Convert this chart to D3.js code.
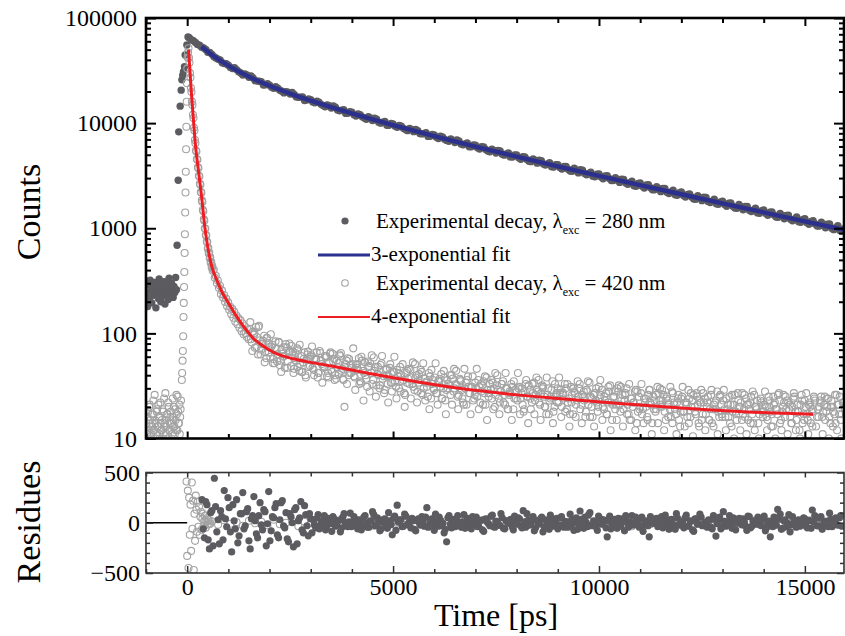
<!DOCTYPE html>
<html><head><meta charset="utf-8">
<script src="https://cdn.jsdelivr.net/npm/d3@7"></script>
<style>body{margin:0;background:#fff}svg{display:block}</style>
</head><body><svg id="c" width="845" height="636"></svg>
<script>
// ---------------- DATA ----------------
const xTicks = [0, 5000, 10000, 15000];
const yTicks = [10, 100, 1000, 10000, 100000];
const resTicks = [-500, 0, 500];
const legendLabels = ["Experimental decay, \u03bb", "3-exponential fit", "Experimental decay, \u03bb", "4-exponential fit"];
const legendWl = ["280 nm", "", "420 nm", ""];

// 280 nm excitation decay (filled points)
const tPre280 = d3.range(-980, -259, 20);
const pre280 = [245,180,290,215,320,260,195,275,230,305,250,175,285,240,215,330,265,200,295,225,255,310,190,270,240,285,210,335,250,230,300,265,220,280,245,340,260];
const tRise280 = [-245,-218,-205,-170,-146,-129,-108,-90,-66,-49,-8,20,50];
const rise280 = [690,2860,8260,14500,20600,25800,28500,30800,34400,44500,55300,66000,64800];
const tDecay280 = d3.range(100, 15901, 100);
const decay280 = [62300,58400,55100,51900,47300,45100,41700,39800,36900,35500,33100,32300,30000,29400,27300,26900,25100,24800,23200,22900,
21500,21500,20100,19900,18900,18700,17600,17700,16600,16700,15600,15800,14700,14900,13900,14200,13100,13400,12400,12700,
11700,12000,11200,11500,10600,10900,10000,10400,9550,9800,9150,9350,8700,8900,8300,8480,7900,8100,7500,7720,
7150,7390,6850,7080,6540,6760,6230,6460,5950,6170,5680,5920,5430,5660,5190,5430,4960,5200,4750,4980,
4540,4770,4350,4570,4160,4390,3990,4210,3820,4030,3660,3870,3500,3720,3360,3570,3220,3420,3090,3290,
2960,3160,2840,3030,2730,2910,2620,2800,2510,2690,2410,2590,2320,2490,2230,2390,2140,2300,2060,2210,
1980,2120,1900,2040,1830,1960,1760,1890,1690,1810,1620,1740,1560,1680,1500,1610,1440,1550,1390,1490,
1330,1430,1280,1380,1230,1330,1180,1280,1140,1230,1090,1180,1050,1140,1010,1100,970,1060,940];
const tDecay280b = d3.range(150, 15951, 100);
const decay280b = [60900,56100,52800,50200,47000,42800,40600,37500,36700,33900,
33680,30840,28660,28720,28130,25350,25000,23070,23680,21930,22160,20570,19380,19700,19540,17760,17660,16440,17020,15880,
16150,15090,14300,14640,14580,13300,13260,12380,12850,12020,12250,11470,10890,11180,11160,10190,10190,9530,9930,9320,
9510,8920,8480,8710,8720,7980,7980,7480,7800,7330,7490,7040,6710,6890,6910,6330,6340,5950,6210,5830,
5960,5610,5350,5500,5510,5060,5080,4770,4980,4680,4790,4510,4300,4440,4440,4080,4100,3850,4020,3780,
3870,3650,3480,3590,3600,3310,3320,3130,3270,3070,3150,2970,2840,2920,2930,2690,2710,2540,2670,2510,
2580,2430,2320,2390,2390,2200,2210,2080,2180,2050,2100,1980,1890,1950,1970,1800,1810,1710,1780,1680,
1730,1620,1550,1600,1610,1480,1490,1400,1470,1380,1420,1340,1270,1320,1320,1220,1220,1150,1210,1130,
1160,1100,1050,1090,1090,1000,1010,950,990];

// 3-exponential fit (blue)
const tFit3 = [350,500,750,1000,1500,2000,2500,3000,4000,5000,6000,7000,8000,9000,10000,11000,12000,13000,14000,15000,15950];
const fit3 = [53385,47850,40600,35145,27600,22640,19080,16350,12365,9573,7526,5987,4805,3882,3155,2572,2105,1726,1417,1164,968];

// 420 nm excitation decay (open circles)
const tPre420 = d3.range(-990, -149, 20);
const pre420 = [14,11,18,12,21,15,10,13,17,12,26,14,11,19,13,16,10,22,12,15,18,11,14,27,13,17,10,20,12,16,14,11,24,15,13,19,12,17,25,14,21,16,23];
const tPre420b = d3.range(-980, -159, 20);
const pre420b = [12,16,10,20,13,11,17,14,23,12,15,10,18,13,21,11,16,14,12,19,10,24,13,15,11,17,22,12,14,18,10,16,13,20,11,15,26,12,18,14,11,19];
const tRise420 = [-130,-122,-112,-105,-97,-90,-83,-76,-69,-62,-55,-48,-41,-34,-27,-20,-13,-6,2,10];
const rise420 = [36,42,55,68,94,143,195,276,384,582,877,1413,2188,3446,5650,9230,15950,24000,33000,42000];
const tEarly420 = d3.range(20, 609, 12);
const early420 = [47000,51500,41800,37500,29900,27200,21600,19800,16000,14900,12000,11200,9050,8500,6900,6450,5480,5380,4560,4480,
3800,3730,3160,3110,2650,2600,2210,2180,1840,1780,1500,1450,1215,1180,995,995,860,855,742,738,
640,651,577,588,519,530,468,479,424,440];
const tMid420 = d3.range(620, 1496, 25);
const mid420 = [395,402,338,352,301,318,271,284,236,255,219,232,199,214,181,197,168,179,152,171,141,160,129,148,122,139,113,133,105,124,98,117,101,93,109,88];
const tTail420 = d3.range(1520, 15971, 50);
const tail420 = [110,82,97,115,63,86,79,95,58,81, 60,78,52,71,83,55,64,47,73,66, 49,67,58,72,44,61,53,40,63,57,
62,45,56,38,68,51,47,59,42,64, 43,57,37,52,61,46,20,55,40,50, 51,38,47,58,34,44,53,31,49,42,
36,48,41,30,52,39,45,33,47,28, 43,31,39,48,35,27,42,37,45,33, 29,40,34,45,26,37,31,42,24,36,
38,27,35,41,30,23,36,32,40,28, 33,25,37,29,21,34,39,27,31,24, 30,36,22,32,27,38,25,29,34,20,
32,24,28,35,21,30,26,33,19,29, 23,31,27,18,33,25,29,22,34,26, 28,21,32,25,17,30,24,35,20,27,
22,29,26,33,19,24,31,17,27,23, 30,21,25,16,28,34,20,26,23,18, 24,29,19,27,22,32,15,25,21,28,
18,26,23,30,17,24,20,28,14,25, 27,19,22,16,29,21,25,18,31,23, 20,26,15,23,19,28,22,17,24,13,
25,18,21,29,16,23,20,27,14,22, 17,24,20,15,26,19,22,28,16,21, 23,16,19,25,13,21,18,27,20,15,
19,24,15,22,17,26,20,14,23,18, 21,16,25,18,13,22,19,27,15,20, 16,23,19,14,24,18,21,12,26,17,
20,15,22,18,25,13,19,23,16,21, 18,24,14,20,17,26,21,15,22,19];
const tTail420b = d3.range(1545, 15971, 50);
const tail420b = [88,104,73,92,118,70,85,66,90,74, 75,57,84,63,50,70,61,79,54,68, 62,46,55,69,51,43,66,56,48,60,
47,58,66,42,55,49,61,39,53,45, 54,40,48,63,44,36,51,58,42,47, 39,50,45,35,55,42,37,48,52,33,
44,32,40,50,37,29,46,39,34,43, 35,45,30,40,36,26,44,33,38,31, 38,28,36,43,30,34,25,39,33,29,
27,35,31,24,38,29,33,26,37,30, 32,26,35,22,30,36,27,31,23,34, 25,31,28,35,21,29,33,24,30,26,
29,22,33,26,30,19,27,31,24,28, 30,24,21,28,25,32,19,27,23,29, 22,27,31,20,26,23,29,18,25,30,
27,20,24,30,22,17,26,28,21,25, 19,26,23,29,21,25,16,27,22,31, 26,20,23,17,28,22,25,19,30,21,
23,19,27,21,15,24,22,29,18,20, 17,24,20,26,22,14,23,19,27,21, 23,18,25,21,16,27,19,22,15,24,
18,22,16,24,20,26,17,21,23,15, 22,17,25,19,14,21,23,18,26,16, 19,24,16,21,18,26,15,20,22,17,
16,21,19,25,14,20,23,17,22,18, 20,15,23,17,21,19,26,14,18,22, 19,22,16,20,25,15,18,21,14,23,
17,21,14,19,23,16,20,25,18,15, 20,16,23,18,14,21,25,17,22];
const tTail420c = d3.range(1532, 15971, 50);
const tail420c = [128,68,101,74,115,63,80,53,91,66, 98,52,73,54,82,43,60,74,47,80, 76,42,65,48,78,43,57,38,67,49,
75,40,57,42,65,34,48,61,38,66, 64,36,55,41,65,37,48,33,57,42, 72,29,51,33,60,23,40,54,28,62,
59,25,48,32,61,27,40,22,51,34, 60,24,42,28,51,20,34,46,24,53, 51,22,41,27,52,23,35,19,45,30,
52,21,37,24,44,17,30,40,21,46, 44,19,36,24,46,21,31,17,39,26, 46,19,33,21,39,15,27,36,19,42,
40,17,33,22,42,19,28,15,35,24, 42,17,30,19,36,14,24,33,17,38, 36,15,30,20,38,17,25,14,33,22,
38,16,27,18,33,13,22,30,16,35, 33,14,28,18,35,16,24,13,30,20, 36,15,25,17,31,12,21,28,15,32,
31,13,26,17,33,15,22,12,28,19, 33,14,24,15,29,11,19,26,14,30, 29,12,24,16,31,14,21,11,26,18,
31,13,22,14,27,10.5,18,25,13,29, 27,12,22,15,29,13,19,11,25,17, 29,12,21,14,26,10,17,23,12,27,
26,11,21,14,28,12,19,10,24,16, 28,12,20,13,25,10,17,23,12,26, 25,11,21,14,27,12,18,10,23,15,
27,11,20,13,24,9,16,22,11,25, 24,10,20,13,26,12,17,10,22];

// 4-exponential fit (red)
const tFit4 = [32,100,150,200,275,350,425,500,600,720,850,1000,1200,1400,1600,1800,2100,2600,3000,3500,4500,5500,6600,8000,9000,10500,12000,13500,15200];
const fit4 = [50000,20000,11000,6200,3500,2000,1050,660,430,320,245,195,145,112,90,78,66,57,53,49,41,35,30,26,24,21.5,19.5,18,17];

// residues, 280 nm (filled)
const tRes280 = d3.range(360, 15901, 60);
const res280 = [230,-150,180,-260,120,443,-90,
-210,60,320,-40,150,-290,20,230,-130,90,-60,110,-180,40,260,-110,70,-20,130,-230,310,-80,50,190,-150,200,-30,100,-190,60,-240,150,20,210,-100,80,-130,40,
30,-50,80,-20,10,-70,45,-10,60,-35,20,-90,55,0,-40,95,-15,35,-60,25,
-25,70,-45,15,110,-30,50,-80,5,40,-55,20,-120,65,175,30,-40,85,-20,10,
45,-65,25,-5,60,-35,150,-25,40,-75,15,55,-30,-100,-190,70,-50,35,-15,5,
-45,80,-20,30,-60,10,55,-35,25,-85,40,-10,65,-40,15,-25,90,-55,20,-5,
35,-70,10,50,-30,120,-45,25,-15,60,-50,5,40,-90,30,-20,75,-35,10,-60,
50,-25,15,-45,85,-10,30,-65,117,-5,55,-40,100,-30,10,-75,45,-15,25,-140,
65,-20,35,-55,5,40,-80,15,-30,70,-10,25,-45,55,-25,10,-140,30,-5,45,
-35,60,-15,20,-65,35,-40,90,-20,10,-50,75,-30,15,-85,40,-10,55,-25,5,
30,-45,70,-133,25,-60,110,-35,10,-20,50,-70,20,-5,40,-30,65,-50,15,-10,
55,-25,35,-80,10,-140,-40,20,133,85,-55,30,-5,-90,60,-20,25,-35,15,40,
-50,20,127,70,-30,45,-65,15,-25,95,-40,10,-20,50,-35];
const tRes280b = d3.range(390, 15901, 60);
const res280b = [-60,210,-170,100,-230,160,30,
120,-170,40,250,-90,180,-60,-200,90,300,-30,140,-260,70,20,-150,200,-70,110,-10,-180,60,150,-120,30,220,-50,-160,90,0,130,-210,50,-70,170,-30,90,-100,
-20,45,-60,15,70,-35,5,-85,40,-10,25,-50,90,-25,10,-40,60,-15,30,-70,
55,-5,-45,20,80,-30,10,-60,35,-15,100,-20,45,-75,5,30,-35,65,-10,-50,
20,-80,40,-25,15,55,-45,10,-20,85,-35,25,-5,-65,50,-15,30,-40,70,-30,
10,-55,45,-20,60,-10,-40,25,-70,35,5,-30,75,-45,15,-25,50,-60,20,0,
-35,65,-15,40,-50,10,90,-25,30,-80,20,-10,55,-40,15,-65,35,-5,45,-20,
60,-45,10,-30,25,-75,50,-15,35,-55,5,80,-25,20,-40,65,-10,30,-50,15,
-60,25,-20,45,-35,10,70,-45,5,-25,55,-15,40,-85,20,-30,60,-5,35,-40,
15,-50,75,-20,30,-10,-65,45,-25,10,50,-35,20,-70,40,-15,85,-30,5,-45,
25,-60,35,-10,55,-40,15,-25,70,-55,30,-5,45,-20,10,-75,60,-35,20,-15,
40,-30,65,-50,15,-10,55,-25,35,-65,20,-40,80,-20,5,-45,30,-15,50,-35,
25,-55,10,45,-30,60,-20,15,-40,35,-10,50,-25,70];

// residues, 420 nm (open)
const tResEarly420 = d3.range(-16, 561, 16);
const resEarly420 = [410,-330,320,-450,250,-120,180,-280,400,-60,220,-470,90,-180,270,130,-90,210,-40,160,-120,60,110,-70,40,90,-30,20,70,-50,10,45,-20,30,-15,25,-10];
const tResLate420 = d3.range(600, 15901, 150);
const resLate420 = [15,-20,25,-10,5,-30,20,-5,10,-25,30,-15,0,20,-35,10,-5,25,-20,15,-10,35,-25,5,-15,20,-30,10,25,-5,
0,-20,30,-10,15,-25,5,20,-35,10,-15,25,-5,-20,30,0,-10,15,-30,20,5,-25,35,-15,10,-5,20,-30,0,25,
-20,10,-10,30,-25,15,-5,20,-35,5,10,-15,25,-20,0,30,-10,15,-25,5,-30,20,-5,10,-15,35,-20,0,25,-10,
15,-25,5,20,-30,10,-5,25,-15,0,20,-10,5];

// ---------------- CHART ----------------
const FONT = '"Liberation Serif","Times New Roman",Times,serif';
const DARK = "#5b5b60", OPEN = "#a3a3a3", BLUE = "#2b2f8e", RED = "#ee1d24";
const L = 146, R = 844, T1 = 18, B1 = 438.5, T2 = 472.5, B2 = 573;
const svg = d3.select("#c");

const x = d3.scaleLinear().domain([-1000, 15950]).range([L, R]);
const y = d3.scaleLog().domain([10, 100000]).range([B1, T1]);
const yr = d3.scaleLinear().domain([-500, 500]).range([B2, T2]);

const defs = svg.append("defs");
defs.append("clipPath").attr("id", "clipTop").append("rect").attr("x", L).attr("y", T1).attr("width", R - L).attr("height", B1 - T1);
defs.append("clipPath").attr("id", "clipBot").append("rect").attr("x", L).attr("y", T2).attr("width", R - L).attr("height", B2 - T2);

const zip = (ts, vs) => ts.map((t, i) => [t, vs[i]]);

// top panel marks
const gTop = svg.append("g").attr("clip-path", "url(#clipTop)");
const pts280 = zip(tPre280, pre280).concat(zip(tRise280, rise280), zip(tDecay280, decay280), zip(tDecay280b, decay280b));
gTop.append("g").selectAll("circle").data(pts280).join("circle")
  .attr("cx", d => x(d[0])).attr("cy", d => y(d[1])).attr("r", 3.7).attr("fill", DARK);
gTop.append("path").datum(zip(tFit3, fit3))
  .attr("d", d3.line().x(d => x(d[0])).y(d => y(d[1])).curve(d3.curveMonotoneX))
  .attr("fill", "none").attr("stroke", BLUE).attr("stroke-width", 4.4);
const pts420 = zip(tPre420, pre420).concat(zip(tPre420b, pre420b), zip(tRise420, rise420), zip(tEarly420, early420),
  zip(tMid420, mid420), zip(tTail420, tail420), zip(tTail420b, tail420b), zip(tTail420c, tail420c));
gTop.append("g").selectAll("circle").data(pts420).join("circle")
  .attr("cx", d => x(d[0])).attr("cy", d => y(d[1])).attr("r", 3.5)
  .attr("fill", "none").attr("stroke", OPEN).attr("stroke-width", 1.1);
gTop.append("path").datum(zip(tFit4, fit4))
  .attr("d", d3.line().x(d => x(d[0])).y(d => y(d[1])).curve(d3.curveMonotoneX))
  .attr("fill", "none").attr("stroke", RED).attr("stroke-width", 3);

// bottom panel marks
const gBot = svg.append("g").attr("clip-path", "url(#clipBot)");
gBot.append("line").attr("x1", x(-1000)).attr("x2", x(0)).attr("y1", yr(0)).attr("y2", yr(0))
  .attr("stroke", "#000").attr("stroke-width", 1.6);
const r420 = zip(tResEarly420, resEarly420).concat(zip(tResLate420, resLate420));
gBot.append("g").selectAll("circle").data(r420).join("circle")
  .attr("cx", d => x(d[0])).attr("cy", d => yr(d[1])).attr("r", 3.5)
  .attr("fill", "none").attr("stroke", OPEN).attr("stroke-width", 1.1);
gBot.append("g").selectAll("circle").data(zip(tRes280, res280).concat(zip(tRes280b, res280b))).join("circle")
  .attr("cx", d => x(d[0])).attr("cy", d => yr(d[1])).attr("r", 3.6).attr("fill", DARK);

// axes helpers
function drawAxis(gen, vals, size, transform, sw, color, fmt, pad) {
  const g = svg.append("g").attr("transform", transform)
    .call(gen.tickValues(vals).tickSize(size).tickPadding(pad || 3).tickFormat(fmt || (() => "")));
  g.select(".domain").remove();
  g.attr("font-family", FONT).attr("font-size", 24);
  g.selectAll(".tick line").attr("stroke", color).attr("stroke-width", sw);
  g.selectAll(".tick text").attr("fill", "#000");
  return g;
}
const minorX = d3.range(-1000, 15951, 1000).filter(v => v % 5000 !== 0);
const minorLog = [];
[10, 100, 1000, 10000].forEach(dec => { for (let m = 2; m <= 9; m++) minorLog.push(m * dec); });
const minorRes = d3.range(-400, 401, 100).filter(v => v !== 0);

// top panel axes
drawAxis(d3.axisBottom(x), xTicks, -7, `translate(0,${B1})`, 2, "#000");
drawAxis(d3.axisBottom(x), minorX, -4.5, `translate(0,${B1})`, 2, "#000");
drawAxis(d3.axisTop(x), xTicks, -8, `translate(0,${T1})`, 2, "#000");
drawAxis(d3.axisTop(x), minorX, -5, `translate(0,${T1})`, 2, "#000");
drawAxis(d3.axisLeft(y), yTicks, -10, `translate(${L},0)`, 2, "#000", d3.format("d"), 9);
drawAxis(d3.axisLeft(y), minorLog, -5, `translate(${L},0)`, 2, "#000");
drawAxis(d3.axisRight(y), yTicks, -10, `translate(${R},0)`, 2, "#000");
drawAxis(d3.axisRight(y), minorLog, -5, `translate(${R},0)`, 2, "#000");
svg.append("rect").attr("x", L).attr("y", T1).attr("width", R - L).attr("height", B1 - T1)
  .attr("fill", "none").attr("stroke", "#000").attr("stroke-width", 2.6);

// bottom panel axes
const BC = "#333";
drawAxis(d3.axisBottom(x), xTicks, -7, `translate(0,${B2})`, 1.5, BC, d3.format("d"), 5);
drawAxis(d3.axisBottom(x), minorX, -4, `translate(0,${B2})`, 1.5, BC);
drawAxis(d3.axisTop(x), xTicks, -5, `translate(0,${T2})`, 1.5, BC);
drawAxis(d3.axisTop(x), minorX, -4, `translate(0,${T2})`, 1.5, BC);
drawAxis(d3.axisLeft(yr), resTicks, -7, `translate(${L},0)`, 1.5, BC, d3.format("d"), 6);
drawAxis(d3.axisLeft(yr), minorRes, -4, `translate(${L},0)`, 1.5, BC);
drawAxis(d3.axisRight(yr), resTicks, -7, `translate(${R},0)`, 1.5, BC);
drawAxis(d3.axisRight(yr), minorRes, -4, `translate(${R},0)`, 1.5, BC);
svg.append("rect").attr("x", L).attr("y", T2).attr("width", R - L).attr("height", B2 - T2)
  .attr("fill", "none").attr("stroke", BC).attr("stroke-width", 1.6);

// axis titles
svg.append("text").attr("transform", "translate(40,212) rotate(-90)").attr("text-anchor", "middle")
  .attr("font-family", FONT).attr("font-size", 34).text("Counts");
svg.append("text").attr("transform", "translate(40,522) rotate(-90)").attr("text-anchor", "middle")
  .attr("font-family", FONT).attr("font-size", 34).text("Residues");
svg.append("text").attr("x", 496).attr("y", 626).attr("text-anchor", "middle")
  .attr("font-family", FONT).attr("font-size", 32).text("Time [ps]");

// legend
const lg = svg.append("g").attr("font-family", FONT).attr("font-size", 21);
const rowsY = [228, 261, 290, 323];
legendLabels.forEach((lab, i) => {
  const by = rowsY[i];
  if (i === 0) lg.append("circle").attr("cx", 345).attr("cy", by - 7).attr("r", 3.6).attr("fill", DARK);
  if (i === 2) lg.append("circle").attr("cx", 345).attr("cy", by - 7).attr("r", 3.3).attr("fill", "none").attr("stroke", OPEN).attr("stroke-width", 1.1);
  if (i === 1) lg.append("line").attr("x1", 318).attr("x2", 370).attr("y1", by - 6).attr("y2", by - 6).attr("stroke", BLUE).attr("stroke-width", 3);
  if (i === 3) lg.append("line").attr("x1", 318).attr("x2", 370).attr("y1", by - 6).attr("y2", by - 6).attr("stroke", RED).attr("stroke-width", 2.2);
  const t = lg.append("text").attr("x", (i % 2 === 0) ? 376 : 371).attr("y", by);
  t.append("tspan").text(lab);
  if (legendWl[i]) {
    t.append("tspan").attr("font-size", 12).attr("dy", 6).text("exc");
    t.append("tspan").attr("dy", -6).text(" = " + legendWl[i]);
  }
});
</script></body></html>
